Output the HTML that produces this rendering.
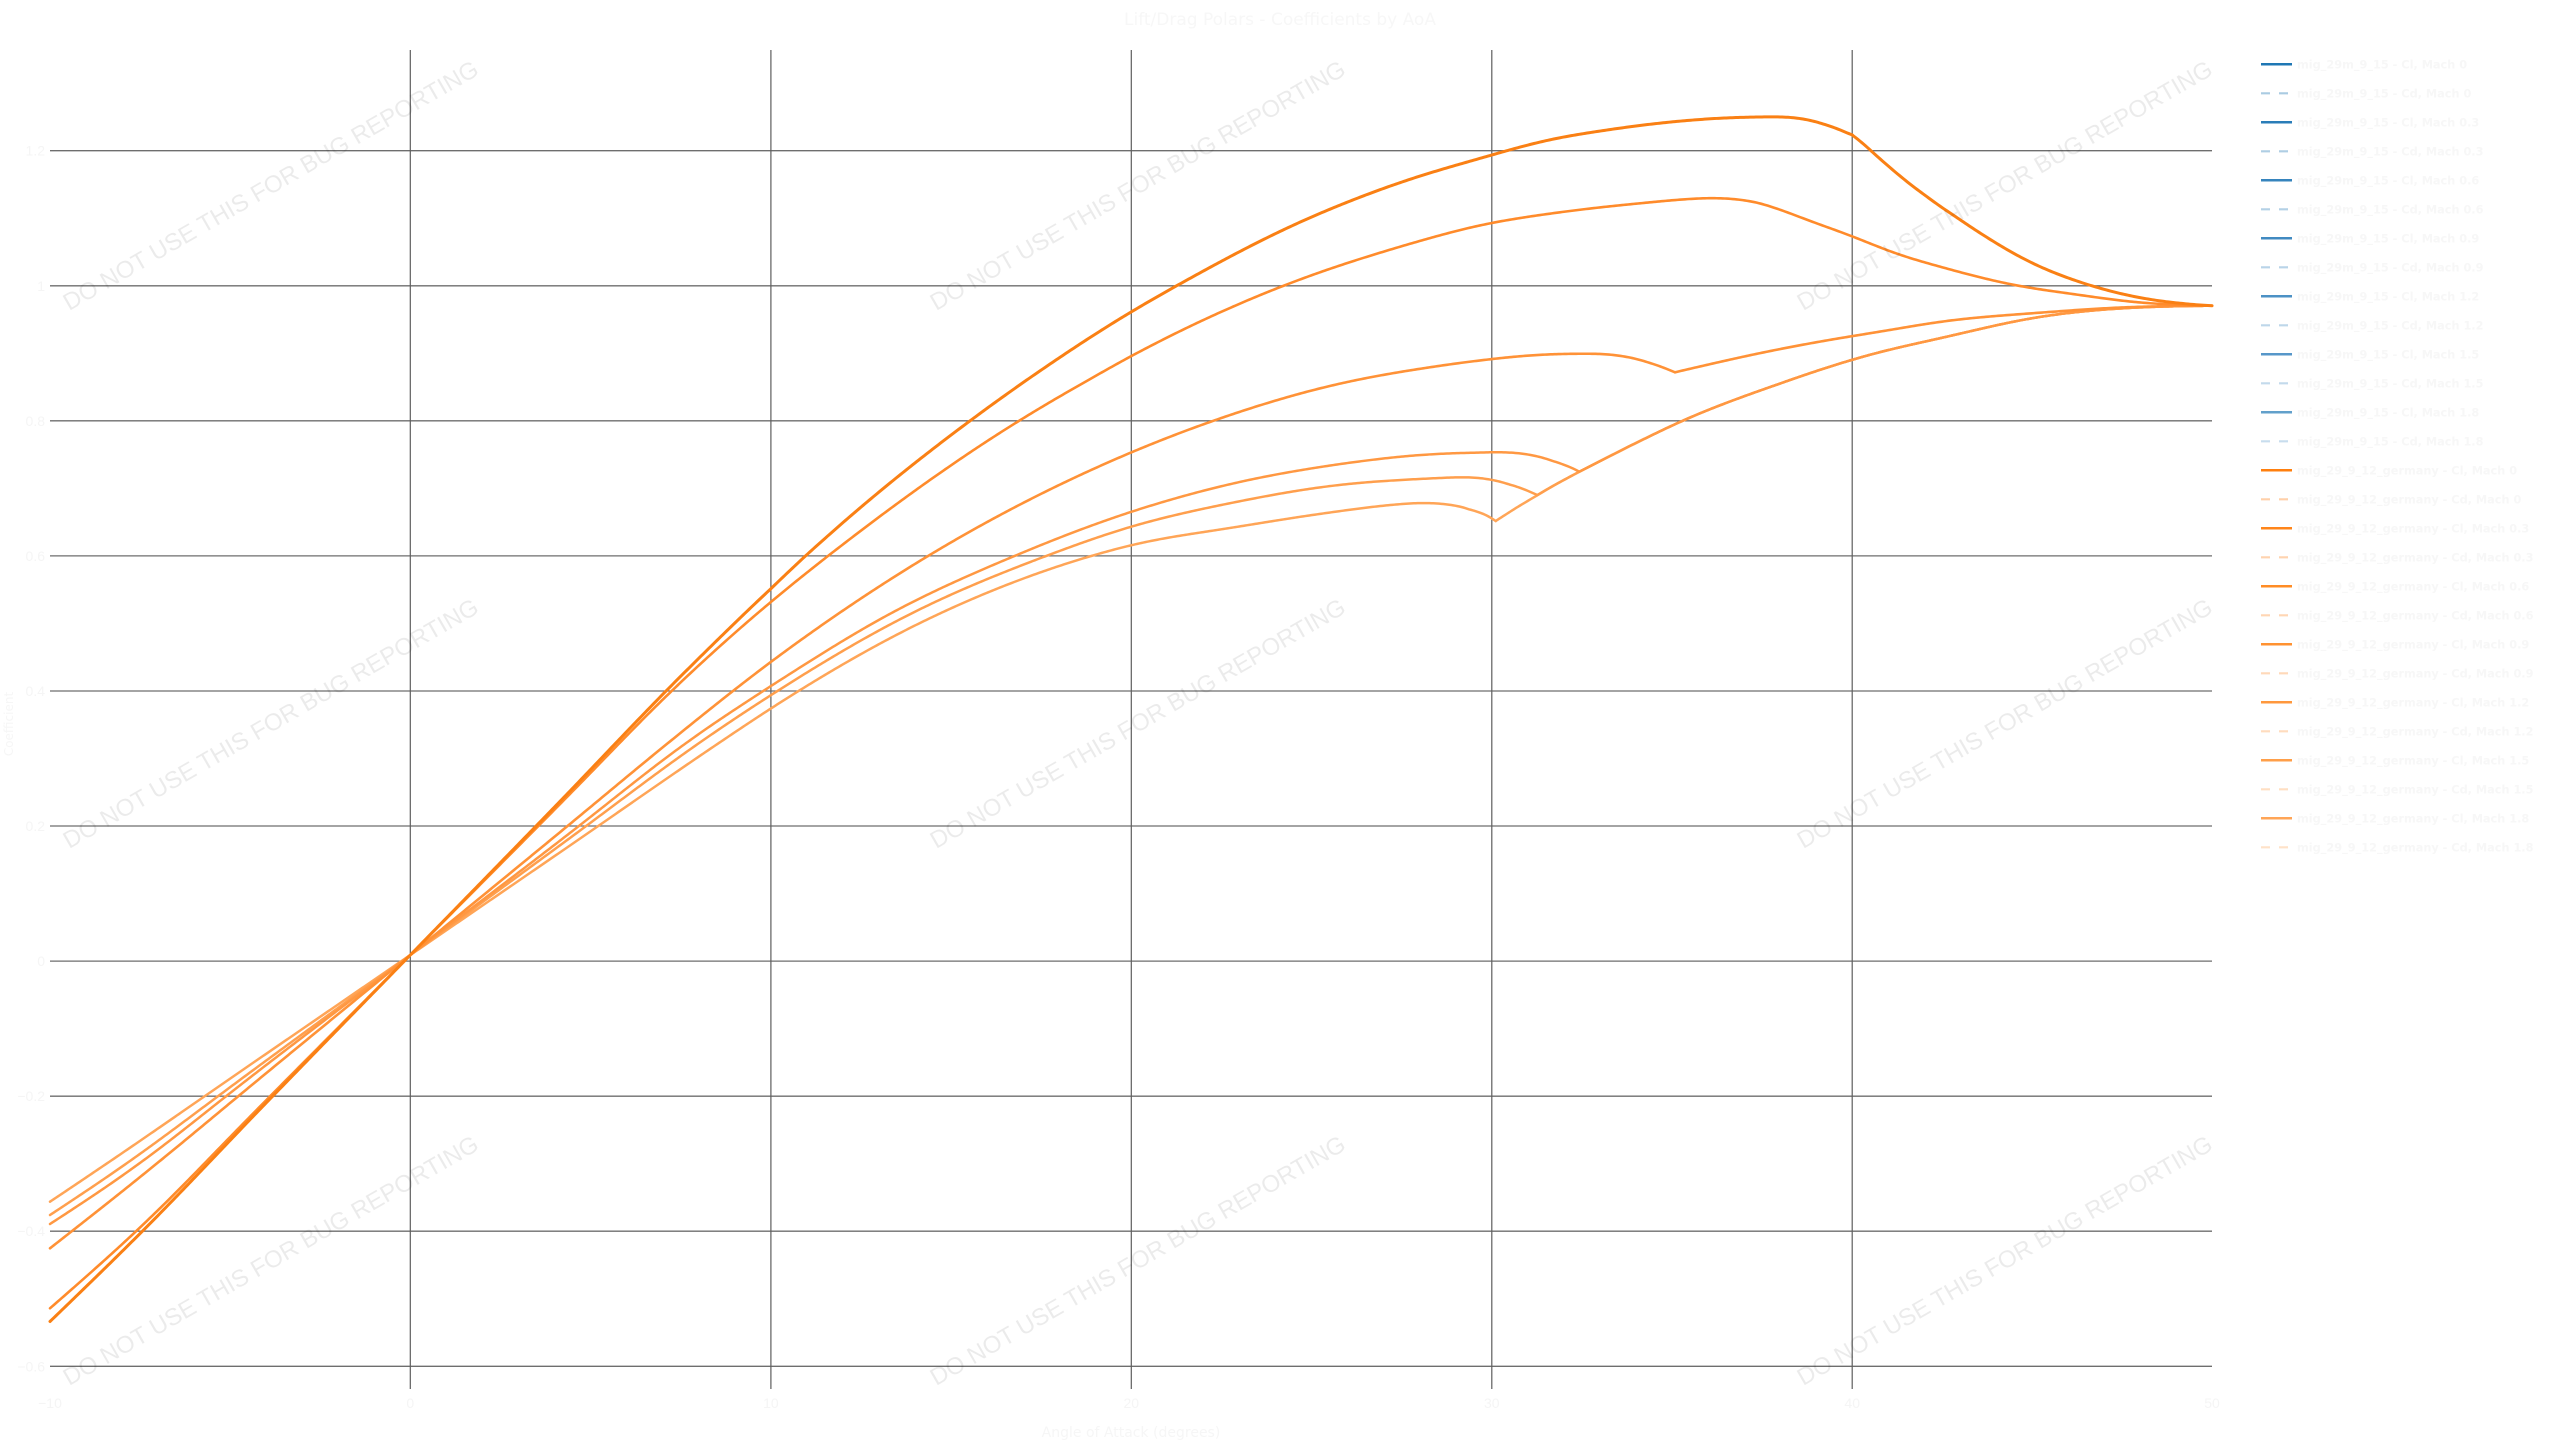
<!DOCTYPE html>
<html>
<head>
<meta charset="utf-8">
<style>
html,body{margin:0;padding:0;background:#fff;width:2560px;height:1440px;overflow:hidden}
svg{display:block}
</style>
</head>
<body>
<svg id="chart" width="2560" height="1440" viewBox="0 0 2560 1440" xmlns="http://www.w3.org/2000/svg">
<rect x="0" y="0" width="2560" height="1440" fill="#ffffff"/>

<!-- title -->
<text x="1280" y="25" text-anchor="middle" font-family="DejaVu Sans, Liberation Sans, sans-serif" font-size="17" fill="#f7f7f7">Lift/Drag Polars - Coefficients by AoA</text>

<!-- horizontal gridlines -->
<g stroke="#6e6e6e" stroke-width="1.3" fill="none">
<line x1="50" x2="2212" y1="150.7" y2="150.7"/>
<line x1="50" x2="2212" y1="285.8" y2="285.8"/>
<line x1="50" x2="2212" y1="420.8" y2="420.8"/>
<line x1="50" x2="2212" y1="555.9" y2="555.9"/>
<line x1="50" x2="2212" y1="691.0" y2="691.0"/>
<line x1="50" x2="2212" y1="826.0" y2="826.0"/>
<line x1="50" x2="2212" y1="961.1" y2="961.1"/>
<line x1="50" x2="2212" y1="1096.2" y2="1096.2"/>
<line x1="50" x2="2212" y1="1231.2" y2="1231.2"/>
<line x1="50" x2="2212" y1="1366.3" y2="1366.3"/>
</g>
<!-- vertical gridlines -->
<g stroke="#5e5e5e" stroke-width="1.2" fill="none">
<line x1="410.3" x2="410.3" y1="50" y2="1389"/>
<line x1="770.9" x2="770.9" y1="50" y2="1389"/>
<line x1="1131.3" x2="1131.3" y1="50" y2="1389"/>
<line x1="1491.8" x2="1491.8" y1="50" y2="1389"/>
<line x1="1852.2" x2="1852.2" y1="50" y2="1389"/>
</g>

<!-- y tick labels -->
<g font-family="Liberation Sans, Arial, sans-serif" font-size="14" fill="#f5f5f5" text-anchor="end">
<text x="45" y="155.7">1.2</text>
<text x="45" y="290.8">1</text>
<text x="45" y="425.8">0.8</text>
<text x="45" y="560.9">0.6</text>
<text x="45" y="696">0.4</text>
<text x="45" y="831">0.2</text>
<text x="45" y="966.1">0</text>
<text x="45" y="1101.2">−0.2</text>
<text x="45" y="1236.2">−0.4</text>
<text x="45" y="1371.3">−0.6</text>
</g>
<!-- x tick labels -->
<g font-family="Liberation Sans, Arial, sans-serif" font-size="14" fill="#f5f5f5" text-anchor="middle">
<text x="50" y="1408">−10</text>
<text x="410.3" y="1408">0</text>
<text x="770.9" y="1408">10</text>
<text x="1131.3" y="1408">20</text>
<text x="1491.8" y="1408">30</text>
<text x="1852.2" y="1408">40</text>
<text x="2212" y="1408">50</text>
</g>
<text x="1131" y="1437" text-anchor="middle" font-family="DejaVu Sans, Liberation Sans, sans-serif" font-size="14" fill="#f6f6f6">Angle of Attack (degrees)</text>
<text x="0" y="0" transform="translate(13,724) rotate(-90)" text-anchor="middle" font-family="DejaVu Sans, Liberation Sans, sans-serif" font-size="12" fill="#f6f6f6">Coefficient</text>

<!-- curves (fallback polylines, smoothed by script) -->
<g id="curves" fill="none" stroke-linecap="round" stroke-linejoin="round">
<!-- c6 -->
<polyline class="c" stroke="rgb(255,165,87)" stroke-width="2.5" points="50,1201.7 97.3,1170 250.6,1064.5 410.3,955 570,845.5 723.3,740 771,708.3 930,618 1091.7,555.7 1131.3,545 1233.3,527.5 1333.3,512 1400,504 1433.3,502.3 1463.3,506.7 1480,511.7 1495.7,521"/>
<polyline class="c" stroke="rgb(255,165,87)" stroke-width="2.5" points="1495.7,521 1516,508 1537.3,495 1558,483 1579.3,471.7 1630,446 1680,421.7 1780,383.5 1852.7,359.5 1880,352 1940,338.3 2040,316.7 2140,307.3 2212,305.7"/>
<!-- c5 -->
<polyline class="c" stroke="rgb(255,159,77)" stroke-width="2.5" points="50,1215 117.3,1170 250.6,1072 410.3,955 570,838 703.3,740 771,695 910,614 1046.7,555.7 1131.3,526.5 1233.3,502.5 1333.3,485.5 1433.3,478.3 1476.7,476.7 1492,478.7 1513.3,485 1537.3,495"/>
<polyline class="c" stroke="rgb(255,159,77)" stroke-width="2.5" points="1537.3,495 1558,483 1579.3,471.7 1630,446 1680,421.7 1780,383.5 1852.7,359.5 1880,352 1940,338.3 2040,316.7 2140,307.3 2212,305.7"/>
<!-- c4 -->
<polyline class="c" stroke="rgb(255,152,66)" stroke-width="2.5" points="50,1224 130.6,1170 250.6,1077 410.3,955 570,833 690,740 771,686 893,612 1015,555.7 1131.3,511.7 1233.3,483.3 1333.3,465 1433.3,454 1492,452.3 1513.3,451.7 1530,454 1546.7,458.3 1563.3,464 1579.3,471.7"/>
<polyline class="c" stroke="rgb(255,152,66)" stroke-width="2.5" points="1579.3,471.7 1630,446 1680,421.7 1780,383.5 1852.7,359.5 1880,352 1940,338.3 2040,316.7 2140,307.3 2212,305.7"/>
<!-- c3 -->
<polyline class="c" stroke="rgb(255,146,55)" stroke-width="2.6" points="50,1248.3 148.9,1170 250.6,1086 410.3,955 570,824 671.7,740 771,661.7 928.3,555.7 1131.3,452.3 1213.3,420.7 1333.3,385 1433.3,366.7 1492,359 1546.7,354.3 1590,353.6 1613,354 1640,359.3 1656.7,365 1675,372.3"/>
<polyline class="c" stroke="rgb(255,146,55)" stroke-width="2.6" points="1675,372.3 1780,349 1852.7,336 1880,331.7 1940,321.7 2040,312.7 2140,306.7 2212,305.7"/>
<!-- c2 -->
<polyline class="c" stroke="rgb(255,139,43)" stroke-width="2.6" points="50,1308.3 148.9,1219.3 250.6,1116 410.3,955 570,794 671.7,690.7 771,601.7 828.3,555.7 1019,420.7 1088.3,380 1131.3,356 1283.3,285.7 1400,246.7 1492,222.7 1540,215 1640,203.3 1716.7,197.7 1756.7,201.7 1773.3,206.7 1806.7,220 1852.3,236 1890,251.7 1940,266.7 2017,285.7 2073,294 2140,302.7 2212,305.7"/>
<!-- c1 -->
<polyline class="c" stroke="rgb(250,128,20)" stroke-width="3" points="50,1321.5 155.6,1218 250.6,1119 410.3,955 570,791 665,692 771,588.3 805.7,555.7 970,420.7 1026.7,380 1131.3,311.7 1176.7,285.7 1300,222 1400,182.5 1492,155 1540,141.7 1606.7,130 1673,121.7 1740,117.3 1790,116.7 1806.7,118.3 1823.3,123.3 1840,130 1852.3,135"/>
<polyline class="c" stroke="rgb(250,128,20)" stroke-width="3" points="1852.3,135 1873,152 1890,168 1923,194.5 1940,206 1973,228.5 2023,259 2090,285.5 2140,298 2180,303.5 2212,305.7"/>
</g>

<!-- watermarks -->
<g font-family="Liberation Sans, Arial, sans-serif" font-size="24" fill="#000" fill-opacity="0.08" text-anchor="middle" dominant-baseline="central">
<text x="271" y="186" transform="rotate(-30 271 186)">DO NOT USE THIS FOR BUG REPORTING</text>
<text x="1138" y="186" transform="rotate(-30 1138 186)">DO NOT USE THIS FOR BUG REPORTING</text>
<text x="2005" y="186" transform="rotate(-30 2005 186)">DO NOT USE THIS FOR BUG REPORTING</text>
<text x="271" y="724" transform="rotate(-30 271 724)">DO NOT USE THIS FOR BUG REPORTING</text>
<text x="1138" y="724" transform="rotate(-30 1138 724)">DO NOT USE THIS FOR BUG REPORTING</text>
<text x="2005" y="724" transform="rotate(-30 2005 724)">DO NOT USE THIS FOR BUG REPORTING</text>
<text x="271" y="1261" transform="rotate(-30 271 1261)">DO NOT USE THIS FOR BUG REPORTING</text>
<text x="1138" y="1261" transform="rotate(-30 1138 1261)">DO NOT USE THIS FOR BUG REPORTING</text>
<text x="2005" y="1261" transform="rotate(-30 2005 1261)">DO NOT USE THIS FOR BUG REPORTING</text>
</g>

<!-- legend -->
<g font-family="DejaVu Sans, Liberation Sans, sans-serif" font-size="11.3" font-weight="bold" fill="#f7f7f7">
<line x1="2261" x2="2292" y1="64.3" y2="64.3" stroke="rgb(31,119,180)" stroke-width="2.5"/><text x="2297" y="68.3">mig_29m_9_15 - Cl, Mach 0</text>
<line x1="2261" x2="2292" y1="93.3" y2="93.3" stroke="rgb(170,203,226)" stroke-width="2.2" stroke-dasharray="9,9"/><text x="2297" y="97.3">mig_29m_9_15 - Cd, Mach 0</text>
<line x1="2261" x2="2292" y1="122.3" y2="122.3" stroke="rgb(42,125,184)" stroke-width="2.5"/><text x="2297" y="126.3">mig_29m_9_15 - Cl, Mach 0.3</text>
<line x1="2261" x2="2292" y1="151.3" y2="151.3" stroke="rgb(175,206,228)" stroke-width="2.2" stroke-dasharray="9,9"/><text x="2297" y="155.3">mig_29m_9_15 - Cd, Mach 0.3</text>
<line x1="2261" x2="2292" y1="180.3" y2="180.3" stroke="rgb(54,132,189)" stroke-width="2.5"/><text x="2297" y="184.3">mig_29m_9_15 - Cl, Mach 0.6</text>
<line x1="2261" x2="2292" y1="209.3" y2="209.3" stroke="rgb(180,209,230)" stroke-width="2.2" stroke-dasharray="9,9"/><text x="2297" y="213.3">mig_29m_9_15 - Cd, Mach 0.6</text>
<line x1="2261" x2="2292" y1="238.3" y2="238.3" stroke="rgb(65,138,193)" stroke-width="2.5"/><text x="2297" y="242.3">mig_29m_9_15 - Cl, Mach 0.9</text>
<line x1="2261" x2="2292" y1="267.3" y2="267.3" stroke="rgb(185,212,232)" stroke-width="2.2" stroke-dasharray="9,9"/><text x="2297" y="271.3">mig_29m_9_15 - Cd, Mach 0.9</text>
<line x1="2261" x2="2292" y1="296.3" y2="296.3" stroke="rgb(76,145,197)" stroke-width="2.5"/><text x="2297" y="300.3">mig_29m_9_15 - Cl, Mach 1.2</text>
<line x1="2261" x2="2292" y1="325.3" y2="325.3" stroke="rgb(190,215,234)" stroke-width="2.2" stroke-dasharray="9,9"/><text x="2297" y="329.3">mig_29m_9_15 - Cd, Mach 1.2</text>
<line x1="2261" x2="2292" y1="354.3" y2="354.3" stroke="rgb(87,151,201)" stroke-width="2.5"/><text x="2297" y="358.3">mig_29m_9_15 - Cl, Mach 1.5</text>
<line x1="2261" x2="2292" y1="383.3" y2="383.3" stroke="rgb(195,218,236)" stroke-width="2.2" stroke-dasharray="9,9"/><text x="2297" y="387.3">mig_29m_9_15 - Cd, Mach 1.5</text>
<line x1="2261" x2="2292" y1="412.3" y2="412.3" stroke="rgb(98,160,203)" stroke-width="2.5"/><text x="2297" y="416.3">mig_29m_9_15 - Cl, Mach 1.8</text>
<line x1="2261" x2="2292" y1="441.3" y2="441.3" stroke="rgb(200,221,238)" stroke-width="2.2" stroke-dasharray="9,9"/><text x="2297" y="445.3">mig_29m_9_15 - Cd, Mach 1.8</text>
<line x1="2261" x2="2292" y1="470.3" y2="470.3" stroke="rgb(255,127,14)" stroke-width="2.5"/><text x="2297" y="474.3">mig_29_9_12_germany - Cl, Mach 0</text>
<line x1="2261" x2="2292" y1="499.3" y2="499.3" stroke="rgb(255,208,170)" stroke-width="2.2" stroke-dasharray="9,9"/><text x="2297" y="503.3">mig_29_9_12_germany - Cd, Mach 0</text>
<line x1="2261" x2="2292" y1="528.3" y2="528.3" stroke="rgb(255,133,26)" stroke-width="2.5"/><text x="2297" y="532.3">mig_29_9_12_germany - Cl, Mach 0.3</text>
<line x1="2261" x2="2292" y1="557.3" y2="557.3" stroke="rgb(255,211,175)" stroke-width="2.2" stroke-dasharray="9,9"/><text x="2297" y="561.3">mig_29_9_12_germany - Cd, Mach 0.3</text>
<line x1="2261" x2="2292" y1="586.3" y2="586.3" stroke="rgb(255,140,37)" stroke-width="2.5"/><text x="2297" y="590.3">mig_29_9_12_germany - Cl, Mach 0.6</text>
<line x1="2261" x2="2292" y1="615.3" y2="615.3" stroke="rgb(255,214,180)" stroke-width="2.2" stroke-dasharray="9,9"/><text x="2297" y="619.3">mig_29_9_12_germany - Cd, Mach 0.6</text>
<line x1="2261" x2="2292" y1="644.3" y2="644.3" stroke="rgb(255,146,49)" stroke-width="2.5"/><text x="2297" y="648.3">mig_29_9_12_germany - Cl, Mach 0.9</text>
<line x1="2261" x2="2292" y1="673.3" y2="673.3" stroke="rgb(255,217,185)" stroke-width="2.2" stroke-dasharray="9,9"/><text x="2297" y="677.3">mig_29_9_12_germany - Cd, Mach 0.9</text>
<line x1="2261" x2="2292" y1="702.3" y2="702.3" stroke="rgb(255,152,61)" stroke-width="2.5"/><text x="2297" y="706.3">mig_29_9_12_germany - Cl, Mach 1.2</text>
<line x1="2261" x2="2292" y1="731.3" y2="731.3" stroke="rgb(255,220,190)" stroke-width="2.2" stroke-dasharray="9,9"/><text x="2297" y="735.3">mig_29_9_12_germany - Cd, Mach 1.2</text>
<line x1="2261" x2="2292" y1="760.3" y2="760.3" stroke="rgb(255,159,73)" stroke-width="2.5"/><text x="2297" y="764.3">mig_29_9_12_germany - Cl, Mach 1.5</text>
<line x1="2261" x2="2292" y1="789.3" y2="789.3" stroke="rgb(255,223,195)" stroke-width="2.2" stroke-dasharray="9,9"/><text x="2297" y="793.3">mig_29_9_12_germany - Cd, Mach 1.5</text>
<line x1="2261" x2="2292" y1="818.3" y2="818.3" stroke="rgb(255,165,87)" stroke-width="2.5"/><text x="2297" y="822.3">mig_29_9_12_germany - Cl, Mach 1.8</text>
<line x1="2261" x2="2292" y1="847.3" y2="847.3" stroke="rgb(255,226,200)" stroke-width="2.2" stroke-dasharray="9,9"/><text x="2297" y="851.3">mig_29_9_12_germany - Cd, Mach 1.8</text>
</g>
</svg>

<script>
(function(){
  var NS = "http://www.w3.org/2000/svg";
  function sign(v){return v<0?-1:1;}
  function tangents(pts){
    var n = pts.length, t = new Array(n);
    for(var i=1;i<n-1;i++){
      var h0 = pts[i][0]-pts[i-1][0], h1 = pts[i+1][0]-pts[i][0];
      var s0 = (pts[i][1]-pts[i-1][1])/h0, s1 = (pts[i+1][1]-pts[i][1])/h1;
      var p = (s0*h1 + s1*h0)/(h0+h1);
      t[i] = (sign(s0)+sign(s1))*Math.min(Math.abs(s0),Math.abs(s1),0.5*Math.abs(p)) || 0;
    }
    if(n===2){
      var s=(pts[1][1]-pts[0][1])/(pts[1][0]-pts[0][0]);
      t[0]=s;t[1]=s;
    } else {
      var hA = pts[1][0]-pts[0][0];
      t[0] = (3*(pts[1][1]-pts[0][1])/hA - t[1])/2;
      var hB = pts[n-1][0]-pts[n-2][0];
      t[n-1] = (3*(pts[n-1][1]-pts[n-2][1])/hB - t[n-2])/2;
    }
    return t;
  }
  function build(pts){
    var n = pts.length;
    if(n<2) return "";
    var t = tangents(pts);
    var xs=[], ys=[];
    for(var j=0;j<n-1;j++){
      var x0=pts[j][0],y0=pts[j][1],x1=pts[j+1][0],y1=pts[j+1][1];
      var h=x1-x0;
      var steps=Math.max(2,Math.ceil(h/2));
      for(var k=0;k<steps;k++){
        var u=k/steps, u2=u*u, u3=u2*u;
        var h00=2*u3-3*u2+1, h10=u3-2*u2+u, h01=-2*u3+3*u2, h11=u3-u2;
        xs.push(x0+u*h);
        ys.push(h00*y0+h10*h*t[j]+h01*y1+h11*h*t[j+1]);
      }
    }
    xs.push(pts[n-1][0]); ys.push(pts[n-1][1]);
    var N=xs.length, W=14, sy=new Array(N);
    for(var i=0;i<N;i++){
      var w=Math.min(W,i,N-1-i), sum=0;
      for(var q=i-w;q<=i+w;q++) sum+=ys[q];
      sy[i]=sum/(2*w+1);
    }
    var d="M"+xs[0].toFixed(2)+","+sy[0].toFixed(2);
    for(var r=1;r<N;r++) d+="L"+xs[r].toFixed(2)+","+sy[r].toFixed(2);
    return d;
  }
  var polys = document.querySelectorAll("polyline.c");
  for(var k=0;k<polys.length;k++){
    var pl = polys[k];
    var raw = pl.getAttribute("points").trim().split(/\s+/);
    var pts = raw.map(function(s){var a=s.split(",");return [parseFloat(a[0]),parseFloat(a[1])];});
    var path = document.createElementNS(NS,"path");
    path.setAttribute("d", build(pts));
    path.setAttribute("stroke", pl.getAttribute("stroke"));
    path.setAttribute("stroke-width", pl.getAttribute("stroke-width"));
    path.setAttribute("fill","none");
    path.setAttribute("stroke-linecap","round");
    path.setAttribute("stroke-linejoin","round");
    pl.parentNode.replaceChild(path, pl);
  }
})();
</script>
</body>
</html>
